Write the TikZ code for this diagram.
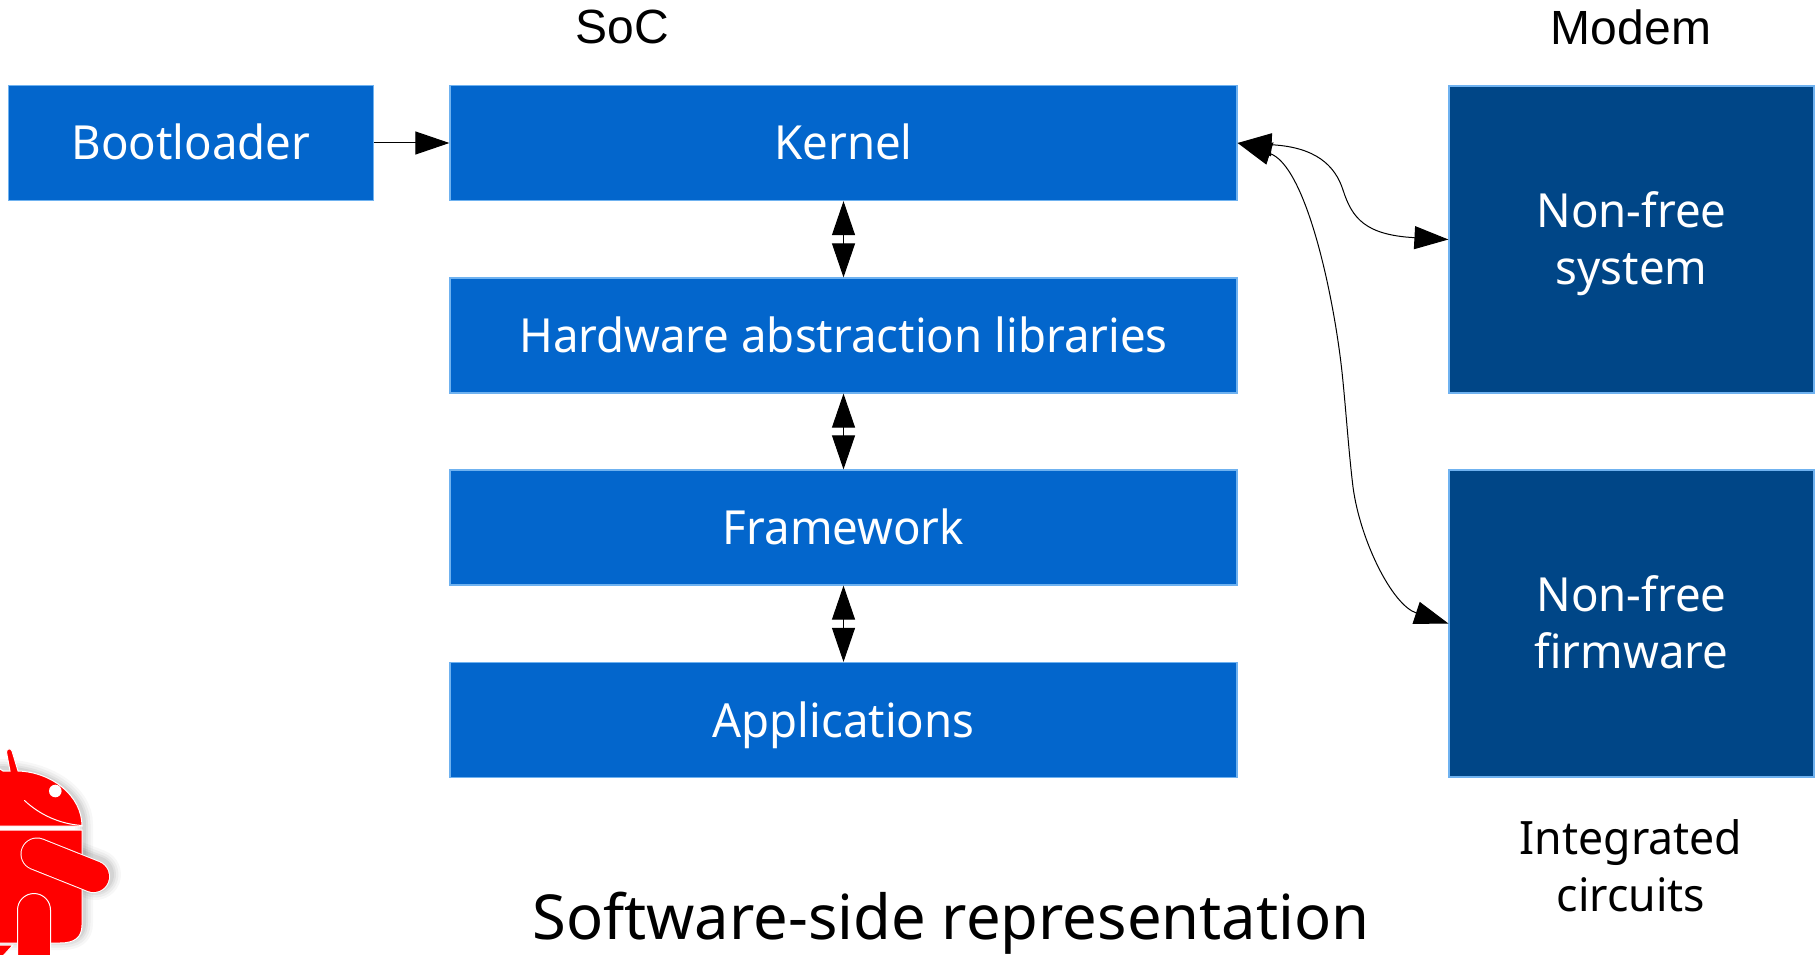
\documentclass[tikz,border=0pt]{standalone}
\usepackage{fontspec}
\setmainfont{Liberation Sans}
\newfontfamily\boxfont[FakeStretch=0.97]{Noto Sans}
\newfontfamily\titlefont[FakeStretch=0.992]{Noto Sans}
\usetikzlibrary{arrows.meta}
\definecolor{soc}{HTML}{0366CC}
\definecolor{modem}{HTML}{004687}
\definecolor{edge}{HTML}{6FB2F0}
\tikzset{
  blockbox/.style={rectangle,draw=edge,line width=1.2pt,fill=soc,text=white,inner sep=0pt,align=center,
    font=\boxfont\fontsize{47}{57}\selectfont,text height=45pt,text depth=11pt},
  darkbox/.style={blockbox,fill=modem,text height=100pt,text depth=11pt},
  capt/.style={inner sep=0pt,align=center,font=\fontsize{48}{57}\selectfont},
  icapt/.style={inner sep=0pt,align=center,font=\boxfont\fontsize{46}{57}\selectfont},
  link/.style={line width=1pt,draw=black},
  oneway/.style={link,-{Triangle[length=34pt,width=23pt]}},
  twoway/.style={link,{Triangle[length=34pt,width=23pt]}-{Triangle[length=34pt,width=23pt]}},
  bot/.style={fill=red,draw=white,line width=1pt},
}
\begin{document}
\begin{tikzpicture}[x=1pt,y=-1pt]
\useasboundingbox (0,0) rectangle (1820,955);
% robot
\begin{scope}
\clip (0,0) rectangle (1820,955);
\foreach \w/\o in {18/0.03,13/0.04,8/0.05,4/0.06}{
  \draw[line width=\w pt,draw=black,opacity=\o,line join=round,xshift=2pt,yshift=2pt]
    (-5,770) .. controls (45,770) and (82,795) .. (82,826) -- (82,925) .. controls (82,938) and (74,943) .. (60,943) -- (-5,943);
  \draw[line width=\w pt+33pt,draw=black,opacity=\o,line cap=round,xshift=2pt,yshift=2pt] (70,867.5) -- (93.5,876.5);
}
\draw[bot] (-5,772) -- (0,769) -- (3,771) -- (10,771) -- (6.5,752) .. controls (6.5,748) and (11,748) .. (12,751) -- (18,771)
  .. controls (52,772) and (82,796) .. (82,826) -- (-5,826) -- cycle;
\draw[bot] (-5,830) -- (82,830) -- (82,925) .. controls (82,938) and (74,943) .. (60,943) -- (-5,943) -- cycle;
\draw[bot] (-2,945) -- (13,945) -- (3,956) -- (-2,956) -- cycle;
\fill[white] (55.3,791) circle (6.3);
\draw[white,line width=1pt,line cap=round] (24.5,800.5) .. controls (40,815) and (60,824) .. (82,825.5);
\draw[white,line width=33pt,line cap=round] (37,854) -- (93.5,876.5);
\draw[red,line width=31pt,line cap=round] (37,854) -- (93.5,876.5);
\draw[bot] (17.5,960) -- (17.5,910) arc[start angle=180,end angle=360,radius=16.5] -- (50.5,960);
\end{scope}
% blocks
\node[blockbox,minimum width=365pt,minimum height=115pt] (boot) at (190.8,143) {Bootloader};
\node[blockbox,minimum width=787pt,minimum height=115pt] (kernel) at (843.5,143) {Kernel};
\node[blockbox,minimum width=787pt,minimum height=115pt] (hal) at (843.5,335.5) {Hardware abstraction libraries};
\node[blockbox,minimum width=787pt,minimum height=115pt] (fw) at (843.5,527.5) {Framework};
\node[blockbox,minimum width=787pt,minimum height=115pt] (apps) at (843.5,720) {Applications};
\node[darkbox,minimum width=365pt,minimum height=307pt] (sys) at (1631.5,239.5) {Non-free\\system};
\node[darkbox,minimum width=365pt,minimum height=307pt] (firm) at (1631.5,623.5) {Non-free\\firmware};
% captions
\node[capt] (soc) at (622,27) {SoC};
\node[capt] (modem) at (1631,27) {Modem};
\node[icapt] (ic) at (1631,866) {Integrated\\circuits};
\node[inner sep=0pt,font=\titlefont\fontsize{62}{66}\selectfont] (title) at (951,923.5) {Software-side representation};
% connectors
\draw[oneway] (boot) -- (kernel);
\draw[twoway] (kernel) -- (hal);
\draw[twoway] (hal) -- (fw);
\draw[twoway] (fw) -- (apps);
\draw[twoway] (kernel.east) .. controls (1315,147) and (1335,165) .. (1343,190) .. controls (1352,218) and (1365,235) .. (sys.west);
\draw[twoway] (kernel.east) .. controls (1305,165) and (1333,290) .. (1342,372) .. controls (1346,410) and (1348.5,450) .. (1353,487) .. controls (1360,540) and (1392,605) .. (firm.west);
\end{tikzpicture}
\end{document}
